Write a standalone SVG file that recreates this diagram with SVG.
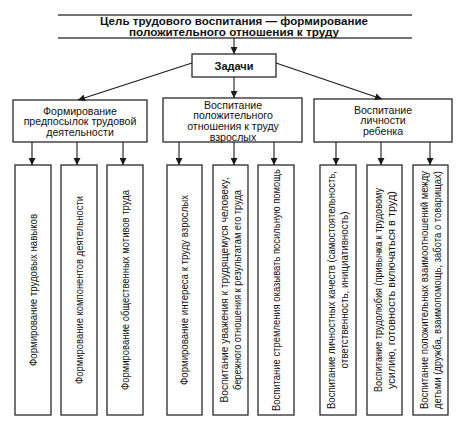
<svg xmlns="http://www.w3.org/2000/svg" width="472" height="431" viewBox="0 0 472 431">
<defs>
<marker id="ah" viewBox="0 0 10 10" refX="10" refY="5" markerWidth="7" markerHeight="7" markerUnits="userSpaceOnUse" orient="auto">
<path d="M0,0 L10,5 L0,10 z" fill="#1a1a1a"/>
</marker>
<style>
.bx{fill:#fff;stroke:#2a2a2a;stroke-width:1.3}
.rule{stroke:#444;stroke-width:1.3}
.cn{stroke:#1a1a1a;stroke-width:1.1;fill:none;marker-end:url(#ah)}
text{font-family:"Liberation Sans",Arial,sans-serif;fill:#111}
.b{font-weight:bold;font-size:10px;text-anchor:middle}
.h{font-size:10.6px;text-anchor:middle}
.v{font-size:10px;text-anchor:middle}
</style>
</defs>
<rect width="472" height="431" fill="#fff"/>

<g id="goal">
<line class="rule" x1="58" y1="15" x2="412" y2="15"/>
<line class="rule" x1="58" y1="38" x2="412" y2="38"/>
<text class="b" x="234" y="25.2" textLength="268" lengthAdjust="spacingAndGlyphs">Цель трудового воспитания — формирование</text>
<text class="b" x="234" y="36.4" textLength="210" lengthAdjust="spacingAndGlyphs">положительного отношения к труду</text>
</g>

<g id="tasks">
<rect class="bx" x="192" y="54" width="84" height="23"/>
<text class="b" x="234" y="69.5" style="font-size:11px">Задачи</text>
</g>

<g id="h1">
<rect class="bx" x="13" y="100" width="134" height="42"/>
<text class="h" x="80" y="114.5">Формирование</text>
<text class="h" x="80" y="125">предпосылок трудовой</text>
<text class="h" x="80" y="135.5">деятельности</text>
</g>
<g id="h2">
<rect class="bx" x="163" y="98" width="139" height="44"/>
<text class="h" x="233" y="108.5">Воспитание</text>
<text class="h" x="233" y="119.3">положительного</text>
<text class="h" x="233" y="130.1">отношения к труду</text>
<text class="h" x="233" y="140.6">взрослых</text>
</g>
<g id="h3">
<rect class="bx" x="314" y="99" width="138" height="43"/>
<text class="h" x="383" y="113.5">Воспитание</text>
<text class="h" x="383" y="124.3">личности</text>
<text class="h" x="383" y="135.1">ребенка</text>
</g>

<g id="n1">
<rect class="bx" x="15" y="165" width="36" height="250"/>
<text class="v" transform="translate(33,290) rotate(-90)" y="3.5" textLength="152" lengthAdjust="spacingAndGlyphs">Формирование трудовых навыков</text>
</g>
<g id="n2">
<rect class="bx" x="61" y="165" width="36" height="250"/>
<text class="v" transform="translate(79,290) rotate(-90)" y="3.5" textLength="188" lengthAdjust="spacingAndGlyphs">Формирование компонентов деятельности</text>
</g>
<g id="n3">
<rect class="bx" x="107" y="165" width="36" height="250"/>
<text class="v" transform="translate(125,290) rotate(-90)" y="3.5" textLength="200" lengthAdjust="spacingAndGlyphs">Формирование общественных мотивов труда</text>
</g>
<g id="n4">
<rect class="bx" x="167" y="165" width="35" height="250"/>
<text class="v" transform="translate(184.5,290) rotate(-90)" y="3.5" textLength="190" lengthAdjust="spacingAndGlyphs">Формирование интереса к труду взрослых</text>
</g>
<g id="n5">
<rect class="bx" x="213" y="165" width="35" height="250"/>
<text class="v" transform="translate(230.5,290) rotate(-90)" x="0" y="-3" textLength="225" lengthAdjust="spacingAndGlyphs">Воспитание уважения к трудящемуся человеку,</text>
<text class="v" transform="translate(230.5,290) rotate(-90)" x="0" y="10" textLength="200" lengthAdjust="spacingAndGlyphs">бережного отношения к результатам его труда</text>
</g>
<g id="n6">
<rect class="bx" x="258" y="165" width="36" height="250"/>
<text class="v" transform="translate(276,290) rotate(-90)" y="3.5" textLength="242" lengthAdjust="spacingAndGlyphs">Воспитание стремления оказывать посильную помощь</text>
</g>
<g id="n7">
<rect class="bx" x="320" y="165" width="36" height="250"/>
<text class="v" transform="translate(338,290) rotate(-90)" x="0" y="-3" textLength="238" lengthAdjust="spacingAndGlyphs">Воспитание личностных качеств (самостоятельность,</text>
<text class="v" transform="translate(338,290) rotate(-90)" x="0" y="10" textLength="157" lengthAdjust="spacingAndGlyphs">ответственность, инициативность)</text>
</g>
<g id="n8">
<rect class="bx" x="367" y="165" width="35" height="250"/>
<text class="v" transform="translate(384.5,290) rotate(-90)" x="0" y="-3" textLength="204" lengthAdjust="spacingAndGlyphs">Воспитание трудолюбия (привычка к трудовому</text>
<text class="v" transform="translate(384.5,290) rotate(-90)" x="0" y="10" textLength="198" lengthAdjust="spacingAndGlyphs">усилию, готовность включаться в труд)</text>
</g>
<g id="n9">
<rect class="bx" x="413" y="165" width="35" height="250"/>
<text class="v" transform="translate(430.5,290) rotate(-90)" x="0" y="-3" textLength="238" lengthAdjust="spacingAndGlyphs">Воспитание положительных взаимоотношений между</text>
<text class="v" transform="translate(430.5,290) rotate(-90)" x="0" y="10" textLength="238" lengthAdjust="spacingAndGlyphs">детьми (дружба, взаимопомощь, забота о товарищах)</text>
</g>

<g id="connectors">
<line class="cn" x1="234" y1="38" x2="234" y2="54"/>
<line class="cn" x1="192" y1="63" x2="78" y2="100"/>
<line class="cn" x1="234" y1="77" x2="234" y2="98"/>
<line class="cn" x1="276" y1="63" x2="382" y2="99"/>
<line class="cn" x1="32" y1="142" x2="32" y2="165"/>
<line class="cn" x1="77" y1="142" x2="77" y2="165"/>
<line class="cn" x1="123" y1="142" x2="123" y2="165"/>
<line class="cn" x1="179" y1="142" x2="179" y2="165"/>
<line class="cn" x1="234" y1="142" x2="234" y2="165"/>
<line class="cn" x1="274" y1="142" x2="274" y2="165"/>
<line class="cn" x1="336" y1="142" x2="336" y2="165"/>
<line class="cn" x1="381" y1="142" x2="381" y2="165"/>
<line class="cn" x1="430" y1="142" x2="430" y2="165"/>
</g>
</svg>
